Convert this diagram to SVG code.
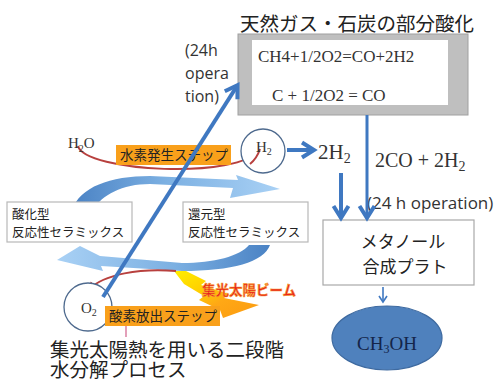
<svg xmlns="http://www.w3.org/2000/svg" width="503" height="382" viewBox="0 0 503 382">
<style>
.jp{font-family:"Noto Sans CJK JP","Noto Sans",sans-serif;fill:#222}
.ser{font-family:"Liberation Serif","DejaVu Serif",serif;fill:#333}
.en{font-family:"Open Sans","Liberation Sans",sans-serif;fill:#333}
.box{fill:#fff;stroke:#b8b8b8;stroke-width:1.2}
.step{fill:#f9a01b}
.blue{stroke:#3f78c1;fill:none}
.red{stroke:#b8403e;fill:none;stroke-width:2}
.circ{fill:#fff;stroke:#4e6a8e;stroke-width:1.3}
</style>
<defs>
<marker id="ab" markerUnits="userSpaceOnUse" viewBox="0 0 20 20" markerWidth="20" markerHeight="20" refX="14" refY="10" orient="auto">
<path d="M3,2.5 L15,10 L3,17.5" fill="none" stroke="#3f78c1" stroke-width="4"/>
</marker>
<marker id="as" markerUnits="userSpaceOnUse" viewBox="0 0 10 10" markerWidth="10" markerHeight="10" refX="8" refY="5" orient="auto">
<path d="M2,1 L8,5 L2,9" fill="none" stroke="#3f78c1" stroke-width="1.6"/>
</marker>
<marker id="ar" markerUnits="userSpaceOnUse" viewBox="0 0 10 10" markerWidth="10" markerHeight="10" refX="8" refY="5" orient="auto">
<path d="M0,1 L9,5 L0,9 Z" fill="#b8403e"/>
</marker>
<linearGradient id="gTop" x1="0" y1="0" x2="1" y2="0">
<stop offset="0" stop-color="#4a82c4"/>
<stop offset="0.45" stop-color="#7cb0e2"/>
<stop offset="1" stop-color="#a9d1f5"/>
</linearGradient>
<linearGradient id="gBot" x1="0" y1="0" x2="1" y2="0">
<stop offset="0" stop-color="#a9d1f5"/>
<stop offset="0.55" stop-color="#7cb0e2"/>
<stop offset="1" stop-color="#4a82c4"/>
</linearGradient>
<linearGradient id="gBeam" x1="0" y1="0" x2="1" y2="1">
<stop offset="0" stop-color="#ffee00"/>
<stop offset="0.35" stop-color="#ffd000"/>
<stop offset="0.6" stop-color="#ffa815"/>
<stop offset="1" stop-color="#fb9a10"/>
</linearGradient>
</defs>
<rect width="503" height="382" fill="#fff"/>

<!-- swooshes -->
<g id="swoosh-top">
<path d="M72,210 C80,187 110,176 150,176 L238,180 L236,175 L280,189 L230,198 L233,188 L150,184 C122,184 102,195 93,210 Z" fill="url(#gTop)"/>
</g>
<g id="swoosh-bottom">
<path d="M270,245 C264,262 232,271 182,271 L101,266 L103,271 L57,260 L80,246 L100,256 L182,263 C214,263 240,256 249,245 Z" fill="url(#gBot)"/>
</g>

<!-- beam -->
<g id="beam">
<path d="M174,271 L186,271 L206,281 L201,285 L229,294 L224,298 L259,305 L223,318 L220,310 L199,300 L204,296 L184,284 Z" fill="url(#gBeam)"/>
<text x="202" y="295" font-family="Noto Sans CJK JP,sans-serif" font-size="13.5" font-weight="bold" fill="#e8201c" stroke="#f7a030" stroke-width="0.6">集光太陽ビーム</text>
</g>

<!-- title / partial oxidation -->
<g id="partial-oxidation">
<text class="jp" x="240" y="31" font-size="19.5">天然ガス・石炭の部分酸化</text>
<rect x="238" y="34" width="230" height="81" fill="#bfbfbf" stroke="#a0a0a0" stroke-width="1"/>
<rect x="252" y="40" width="196" height="65" fill="#fff"/>
<text class="ser" x="258" y="62" font-size="17">CH4+1/2O2=CO+2H2</text>
<text class="ser" x="272" y="101" font-size="17">C + 1/2O2 = CO</text>
</g>

<g id="label-24h-left">
<text class="en" font-size="16"><tspan x="185" y="56">(24h</tspan><tspan x="185" y="79">opera</tspan><tspan x="185" y="102">tion)</tspan></text>
</g>

<!-- red arcs -->
<g id="red-arcs">
<path class="red" d="M78,146 C85,172 240,180 260,149"/>
<path class="red" d="M176,271 C140,268 104,274 88,290" marker-end="url(#ar)"/>
</g>

<!-- steps -->
<g id="step-h2">
<rect class="step" x="116" y="145" width="115" height="20"/>
<text class="jp" x="120" y="160" font-size="13.5">水素発生ステップ</text>
</g>
<g id="h2o">
<text class="ser" x="68" y="148" font-size="15">H<tspan font-size="10" dy="4">2</tspan><tspan dy="-4">O</tspan></text>
</g>
<g id="h2-circle">
<circle class="circ" cx="263" cy="151" r="22" fill="none"/>
<path class="red" d="M250,164 C255,160 258,155 260,149"/>
<text class="ser" x="256" y="152" font-size="15">H<tspan font-size="10" dy="3">2</tspan></text>
</g>

<g id="oxidized-ceramic">
<rect class="box" x="7" y="202" width="125" height="40"/>
<text class="jp" x="12" y="219" font-size="12.5">酸化型</text>
<text class="jp" x="12" y="237" font-size="12.5">反応性セラミックス</text>
</g>
<g id="reduced-ceramic">
<rect class="box" x="183" y="202" width="125" height="40"/>
<text class="jp" x="188" y="219" font-size="12.5">還元型</text>
<text class="jp" x="188" y="237" font-size="12.5">反応性セラミックス</text>
</g>

<g id="o2-circle">
<circle class="circ" cx="88" cy="307" r="24"/>
<text class="ser" x="81" y="313" font-size="15">O<tspan font-size="10" dy="3">2</tspan></text>
</g>
<g id="step-o2">
<rect class="step" x="105" y="306" width="115" height="20"/>
<text class="jp" x="109" y="321" font-size="13.5">酸素放出ステップ</text>
<line x1="126" y1="326" x2="126" y2="337" stroke="#d0608a" stroke-width="1.2"/>
</g>

<g id="caption">
<text class="jp" font-size="19.5"><tspan x="50" y="357">集光太陽熱を用いる二段階</tspan><tspan x="50" y="377">水分解プロセス</tspan></text>
</g>

<g id="h2-label">
<text class="ser" x="318" y="159" font-size="21">2H<tspan font-size="14" dy="4">2</tspan></text>
</g>
<g id="syngas-label">
<text class="ser" x="375" y="167" font-size="20">2CO + 2H<tspan font-size="14" dy="4">2</tspan></text>
</g>
<g id="label-24h-right">
<text class="en" x="367" y="209" font-size="17">(24 h operation)</text>
</g>

<g id="methanol-plant">
<rect x="323" y="220" width="151" height="65" fill="#fff" stroke="#a8a8a8" stroke-width="1.2"/>
<text class="jp" x="403" y="248" font-size="17" text-anchor="middle">メタノール</text>
<text class="jp" x="405" y="273" font-size="17" text-anchor="middle">合成プラト</text>
</g>
<g id="methanol">
<ellipse cx="387" cy="338" rx="55" ry="32" fill="#4f81bd" stroke="#3e6aa0" stroke-width="1.2"/>
<text x="387" y="350" font-family="Liberation Serif,serif" font-size="19" fill="#14254a" text-anchor="middle">CH<tspan font-size="12" dy="3">3</tspan><tspan dy="-3">OH</tspan></text>
</g>

<!-- connectors -->
<g id="connectors">
<line class="blue" x1="103" y1="297" x2="237" y2="86" stroke-width="4" marker-end="url(#ab)"/>
<line class="blue" x1="287" y1="150" x2="313" y2="150" stroke-width="4" marker-end="url(#ab)"/>
<line class="blue" x1="341" y1="173" x2="341" y2="217" stroke-width="4" marker-end="url(#ab)"/>
<line class="blue" x1="367" y1="115" x2="367" y2="217" stroke-width="3" marker-end="url(#ab)"/>
<line class="blue" x1="383" y1="287" x2="383" y2="302" stroke-width="1.6" marker-end="url(#as)"/>
</g>
</svg>
